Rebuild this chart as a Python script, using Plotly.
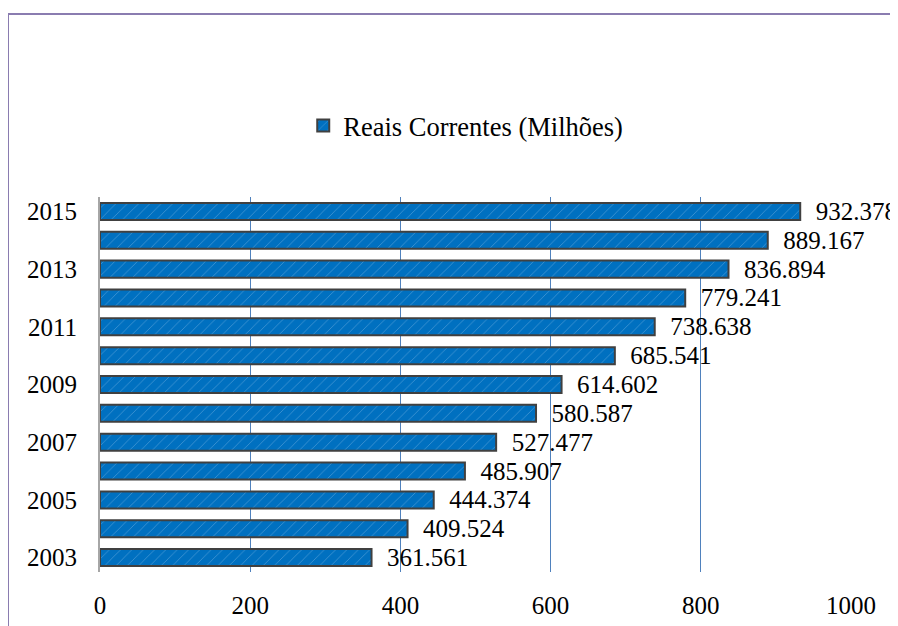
import plotly.graph_objects as go

years = [2003, 2004, 2005, 2006, 2007, 2008, 2009, 2010, 2011, 2012, 2013, 2014, 2015]
values = [361.561, 409.524, 444.374, 485.907, 527.477, 580.587, 614.602,
          685.541, 738.638, 779.241, 836.894, 889.167, 932.378]
labels = ["\u00a0\u00a0" + f"{v:.3f}" for v in values]
series_name = "Reais Correntes (Milhões)"
year_ticks = [2003, 2005, 2007, 2009, 2011, 2013, 2015]
x_ticks = [0, 200, 400, 600, 800, 1000]

FONT = "Liberation Serif"

# page has an 8px body margin; compensate so the plot area sits at x 100-851, y 197-572
W, H = 890, 618
L, R, T, B = 92, 47, 189, 54
PW, PH = W - L - R, H - T - B

fig = go.Figure()
fig.add_trace(go.Bar(
    x=values, y=years, orientation="h", name=series_name,
    text=labels, textposition="outside", cliponaxis=False, constraintext="none",
    textfont=dict(family=FONT, size=25, color="black"),
    marker=dict(color="#0070C0",
                line=dict(color="#404040", width=2),
                pattern=dict(shape="/", fgcolor="#a8cff0", size=8, solidity=0.08)),
))

fig.update_layout(
    width=W, height=H,
    margin=dict(l=L, r=R, t=T, b=B, autoexpand=False),
    paper_bgcolor="white", plot_bgcolor="white",
    font=dict(family=FONT, size=25, color="black"),
    bargap=0.41,
    showlegend=True,
    legend=dict(orientation="h", x=0.487, xanchor="center", y=1.19, yanchor="middle",
                font=dict(family=FONT, size=26.5, color="black"),
                itemwidth=30),
    xaxis=dict(range=[0, 1000], tickvals=x_ticks, showgrid=True, automargin=False,
               gridcolor="#4f81bd", gridwidth=1, zeroline=False, showline=False,
               ticks="", ticklabelstandoff=16,
               tickfont=dict(family=FONT, size=25, color="black")),
    yaxis=dict(range=[2002.5, 2015.5], tickvals=year_ticks, showgrid=False, automargin=False,
               zeroline=False, showline=True, linecolor="#a6a6a6", linewidth=2,
               ticks="", ticklabelstandoff=16,
               tickfont=dict(family=FONT, size=25, color="black")),
    shapes=[dict(type="rect", xref="paper", yref="paper",
                 x0=-(L - 0) / PW, x1=(W + 20 - L) / PW,
                 y0=-(B + 30) / PH, y1=(PH + T - 6) / PH,
                 line=dict(color="#8a7cb0", width=2), layer="below")],
)

fig.write_html("out.html")
